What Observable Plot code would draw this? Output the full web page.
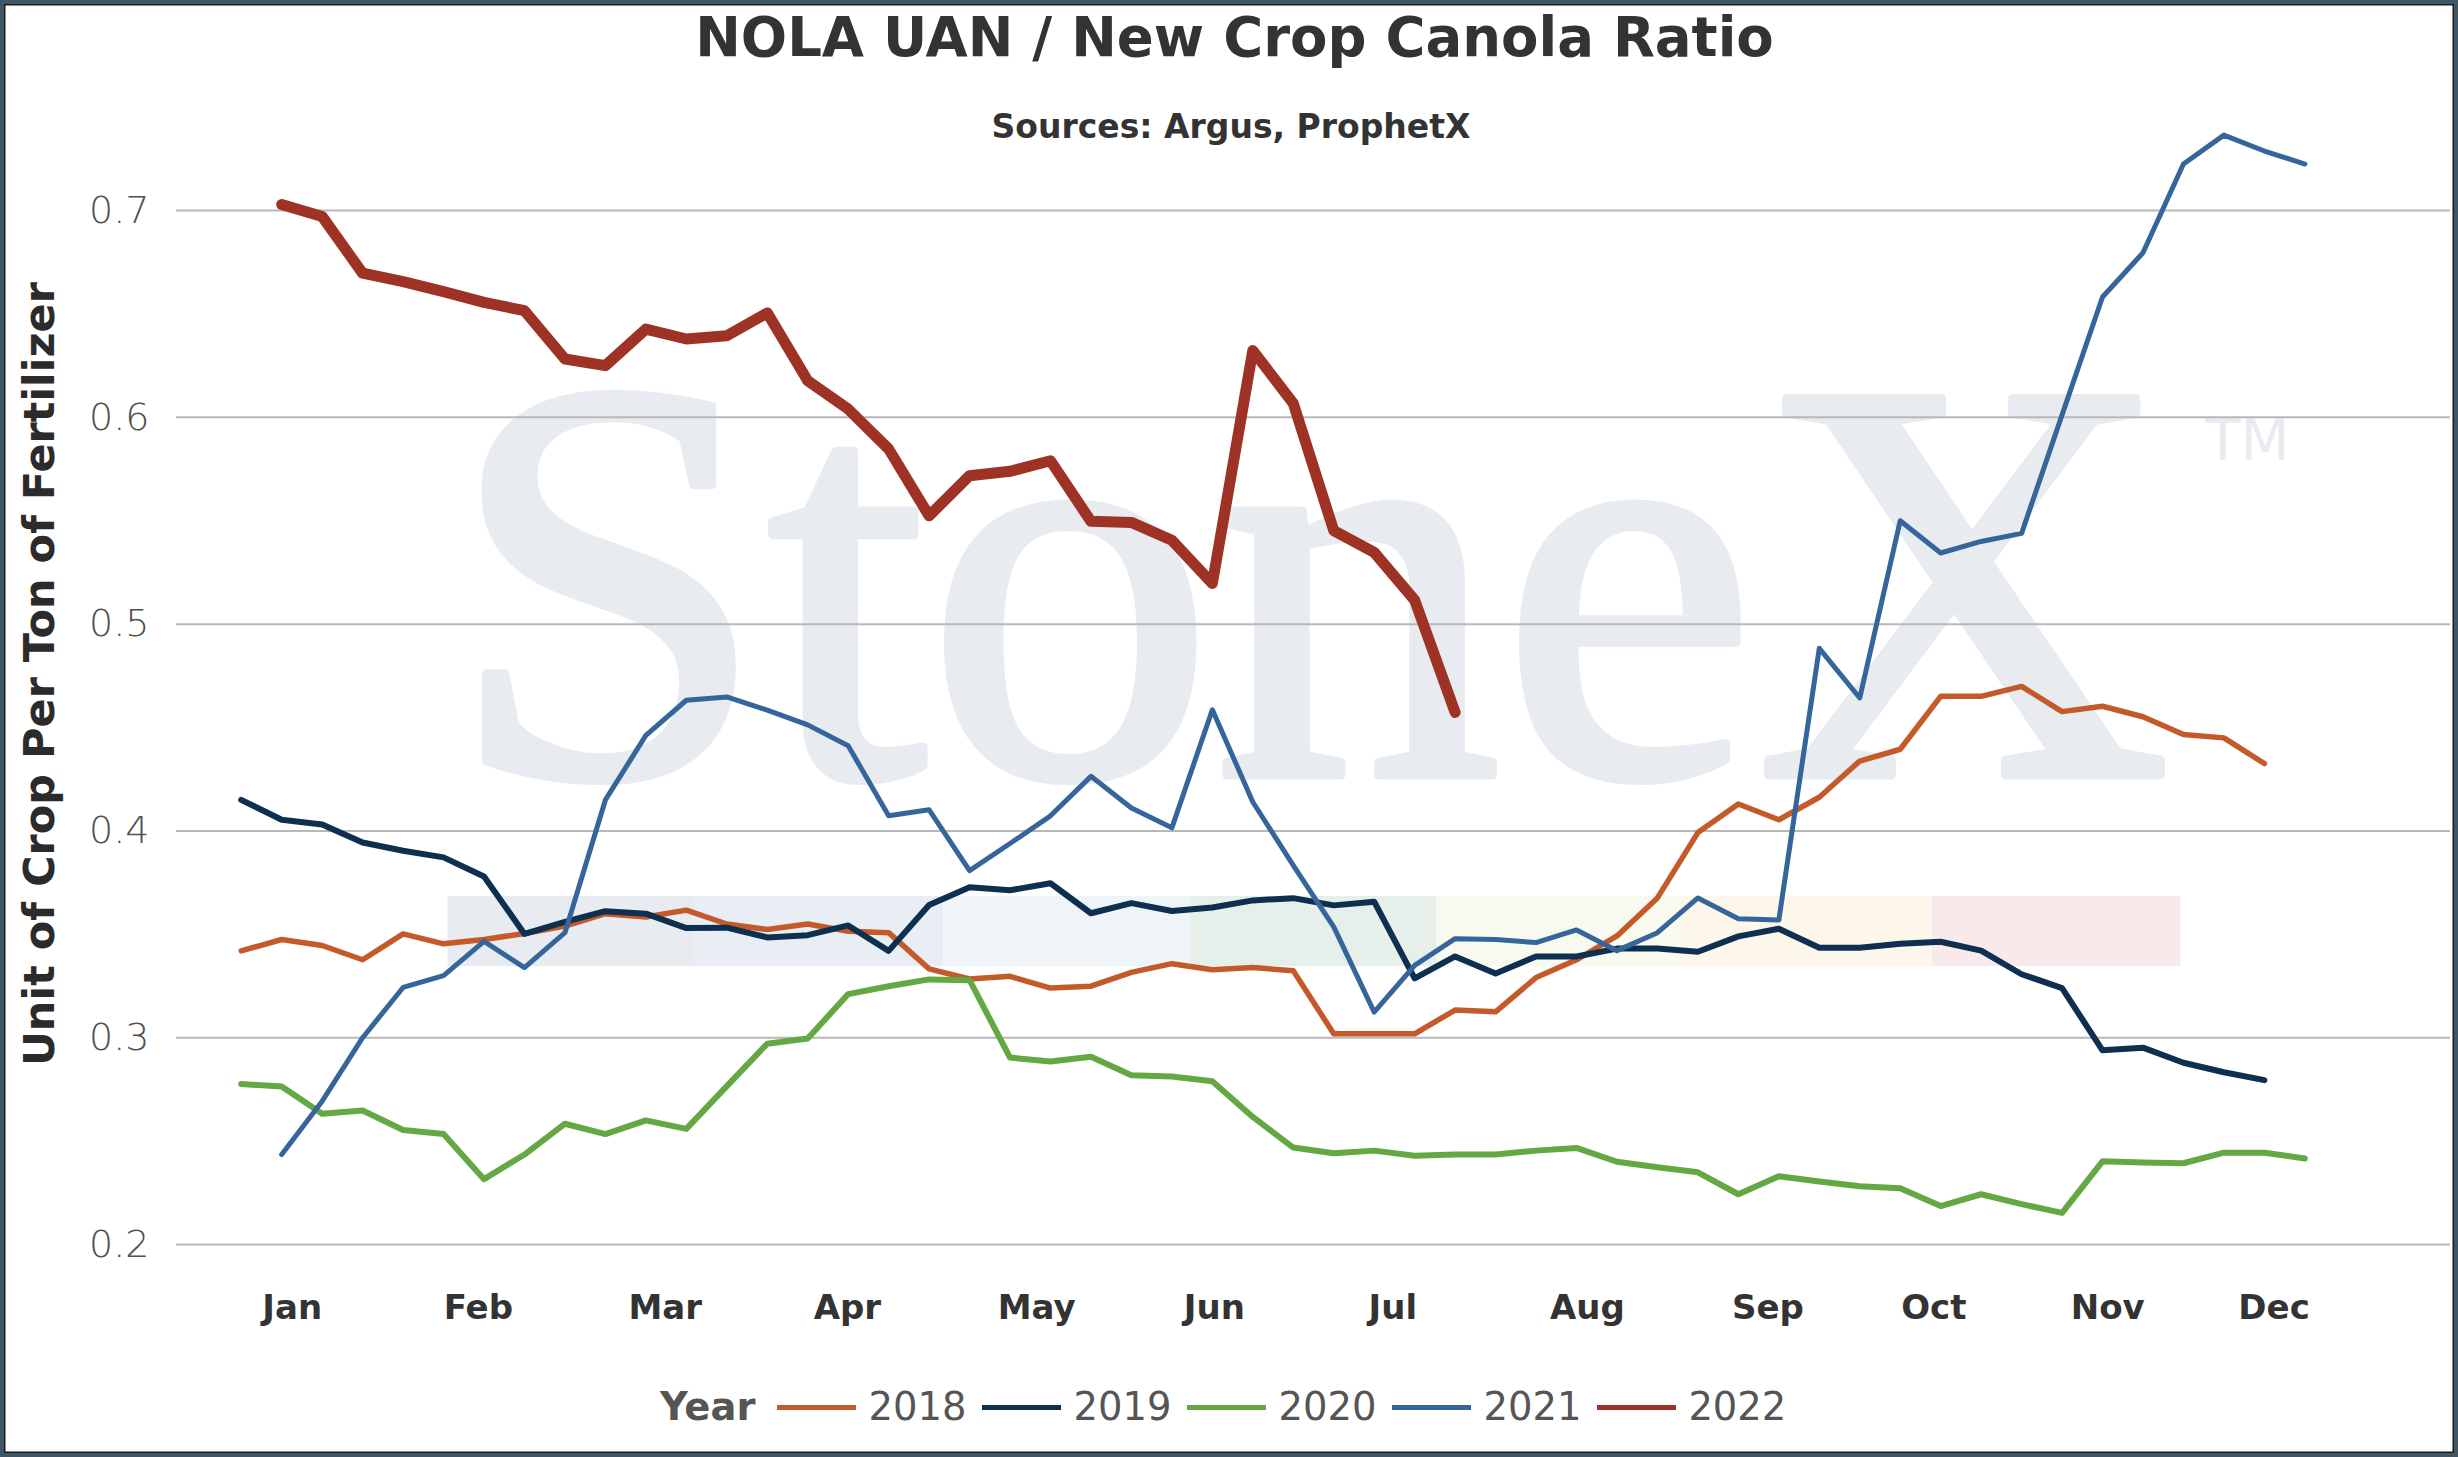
<!DOCTYPE html>
<html>
<head>
<meta charset="utf-8">
<script src="https://cdn.jsdelivr.net/npm/d3@7"></script>
<script src="https://cdn.jsdelivr.net/npm/@observablehq/plot@0.6"></script>
<style>
  html, body { margin: 0; padding: 0; background: #fff; }
  #page { position: relative; width: 2458px; height: 1457px; overflow: hidden; background: #fff;
          font-family: "DejaVu Sans", Verdana, sans-serif; }
  #chart { position: absolute; left: 0; top: 0; }
  #frame { position: absolute; left: 0; top: 0; width: 2458px; height: 1457px; box-sizing: border-box;
           border: 4px solid #3f5667; box-shadow: inset 0 0 0 1.5px #1c1c1c; pointer-events: none; }
  .title { position: absolute; left: 0; width: 2469px; top: 10px; text-align: center; font-weight: bold;
           color: #333; font-size: 54.5px; line-height: 1; white-space: nowrap; }
  .subtitle { position: absolute; left: 0; width: 2462px; top: 110px; text-align: center; font-weight: bold;
              color: #333; font-size: 33px; line-height: 1; white-space: nowrap; }
  #legend { position: absolute; left: 660px; top: 1388px; display: flex; align-items: center;
            font-size: 38.5px; line-height: 1; color: #555; white-space: nowrap; }
  #legend .ltitle { font-weight: bold; margin-right: 22px; }
  #legend .sw { width: 79px; height: 5px; margin-right: 12px; }
  #legend .lab { margin-right: 16px; }
</style>
</head>
<body>
<div id="page">
  <div id="chart"></div>
  <div class="title">NOLA UAN / New Crop Canola Ratio</div>
  <div class="subtitle">Sources: Argus, ProphetX</div>
  <div id="legend"></div>
  <div id="frame"></div>
</div>
<script>
// ---------- data ----------
const years = ["2018", "2019", "2020", "2021", "2022"];
const yearColors = ["#c4592a", "#0e2f50", "#64a844", "#35659b", "#9e3224"];
const yearWidths = [5.5, 6, 6, 5, 11];
const startWeeks = [1, 1, 1, 2, 2];

const v2018 = [0.342, 0.3475, 0.3446, 0.3377, 0.3502, 0.3454, 0.3475, 0.3504, 0.354, 0.360,
  0.3584, 0.3617, 0.355, 0.3523, 0.355, 0.3515, 0.3508, 0.3333, 0.3284, 0.3297,
  0.324, 0.3249, 0.3316, 0.3358, 0.3329, 0.3339, 0.3324, 0.3019, 0.3019, 0.3019,
  0.3134, 0.3125, 0.3291, 0.3377, 0.3492, 0.3676, 0.3992, 0.413, 0.4054, 0.4163,
  0.4338, 0.4395, 0.4651, 0.4651, 0.4699, 0.4577, 0.4603, 0.4552, 0.4466, 0.445, 0.4326];

const v2019 = [0.415, 0.4054, 0.4031, 0.3944, 0.3904, 0.3872, 0.378, 0.3502, 0.356, 0.3612,
  0.360, 0.353, 0.3532, 0.3485, 0.3496, 0.3543, 0.342, 0.3642, 0.3728, 0.3713,
  0.3747, 0.3602, 0.3651, 0.3613, 0.363, 0.3664, 0.3675, 0.364, 0.3658, 0.3287,
  0.3393, 0.331, 0.3393, 0.3393, 0.3431, 0.3431, 0.3416, 0.349, 0.3527, 0.3435,
  0.3435, 0.3454, 0.3464, 0.3421, 0.3307, 0.324, 0.2939, 0.2952, 0.2879, 0.2833, 0.2795];

const v2020 = [0.2776, 0.2764, 0.2632, 0.2648, 0.2554, 0.2534, 0.2316, 0.2435, 0.2584, 0.2534,
  0.260, 0.2559, 0.2766, 0.2971, 0.2996, 0.3211, 0.3249, 0.3282, 0.3278, 0.2904,
  0.2885, 0.2908, 0.2818, 0.2812, 0.2789, 0.2617, 0.2469, 0.2441, 0.2454, 0.2429,
  0.2435, 0.2435, 0.2454, 0.2467, 0.240, 0.2374, 0.2349, 0.2243, 0.2330, 0.2305,
  0.2282, 0.2272, 0.2186, 0.2243, 0.2195, 0.2153, 0.2402, 0.2397, 0.2393, 0.2444,
  0.2444, 0.2416];

const v2021 = [0.2435, 0.2693, 0.300, 0.3243, 0.330, 0.3466, 0.3339, 0.3508, 0.415, 0.4462,
  0.4632, 0.4648, 0.4584, 0.4513, 0.4412, 0.4073, 0.4102, 0.3808, 0.3939, 0.4073,
  0.4264, 0.4111, 0.4015, 0.4586, 0.414, 0.3833, 0.3536, 0.3124, 0.335, 0.3479,
  0.3475, 0.346, 0.3521, 0.3421, 0.3508, 0.3676, 0.3575, 0.3569, 0.4883, 0.4643,
  0.55, 0.5344, 0.540, 0.5439, 0.6012, 0.6582, 0.6796, 0.7225, 0.7365, 0.7288, 0.7225];

const v2022 = [0.7029, 0.6971, 0.6697, 0.6656, 0.6608, 0.6556, 0.6516, 0.6282, 0.625, 0.6427,
  0.6379, 0.6395, 0.6505, 0.6177, 0.604, 0.5847, 0.5524, 0.5718, 0.5739, 0.579,
  0.5497, 0.5492, 0.5406, 0.5197, 0.6323, 0.6068, 0.5452, 0.5347, 0.5116, 0.4573];

const seriesValues = [v2018, v2019, v2020, v2021, v2022];

const monthNames = ["Jan", "Feb", "Mar", "Apr", "May", "Jun", "Jul", "Aug", "Sep", "Oct", "Nov", "Dec"];
const monthTicks = [2.26, 6.86, 11.48, 15.98, 20.66, 25.05, 29.46, 34.27, 38.73, 42.83, 47.13, 51.24];
const yTicks = [0.2, 0.3, 0.4, 0.5, 0.6, 0.7];

// watermark logo band (decoration)
const bandEdges = [6.11, 12.22, 18.36, 24.45, 30.55, 36.62, 42.8, 48.94];
const bandColors = ["#e8ebf0", "#e9eef5", "#eff4f9", "#e6efea", "#f8faef", "#fdf6ea", "#f8e9ea"];
const bandRange = [0.3344, 0.3683];

// ---------- build ----------
const bands = bandColors.map((c, i) => ({x1: bandEdges[i], x2: bandEdges[i + 1], color: c}));
const seriesData = years.map((yr, k) =>
  seriesValues[k].map((v, i) => ({year: yr, week: startWeeks[k] + i, value: v})));
const monthMap = new Map(monthTicks.map((t, i) => [t, monthNames[i]]));

const plot = Plot.plot({
  width: 2458,
  height: 1457,
  marginLeft: 176,
  marginRight: 8,
  marginTop: 86,
  marginBottom: 213,
  style: {fontFamily: "DejaVu Sans, Verdana, sans-serif", background: "transparent", overflow: "visible"},
  x: {type: "linear", domain: [-0.6, 55.6]},
  y: {domain: [0.2, 0.76]},
  marks: [
    Plot.rect(bands, {x1: "x1", x2: "x2", y1: bandRange[0], y2: bandRange[1], fill: "color"}),
    Plot.gridY(yTicks, {stroke: "#b8b8b8", strokeWidth: 2, strokeOpacity: 1}),
    ...seriesData.map((d, k) => Plot.line(d, {
      x: "week", y: "value", stroke: yearColors[k], strokeWidth: yearWidths[k],
      strokeLinejoin: "round", strokeLinecap: "round"
    })),
    Plot.axisY(yTicks, {
      tickSize: 0, tickPadding: 27, fontSize: 38, fill: "#505050", fontWeight: 200,
      tickFormat: d3.format(".1f"), label: null
    }),
    Plot.axisX(monthTicks, {
      tickSize: 0, tickPadding: 50, fontSize: 34, fontWeight: "bold", fill: "#333",
      tickFormat: d => monthMap.get(d), label: null
    })
  ]
});

document.getElementById("chart").appendChild(plot);

// watermark, placed through the plot's own scales, beneath the grid and lines
const xs = plot.scale("x"), ys = plot.scale("y");
const svg = d3.select(plot);
const gridNode = svg.select('g[aria-label="y-grid"]').node();
const wm = document.createElementNS("http://www.w3.org/2000/svg", "g");
plot.insertBefore(wm, gridNode);
const wmg = d3.select(wm).attr("text-anchor", "start");
const wx0 = xs.apply(6.11), wx1 = xs.apply(48.7);
wmg.append("text")
  .attr("x", wx0).attr("y", ys.apply(0.4268))
  .attr("text-anchor", "start")
  .attr("font-family", "Liberation Serif, Times New Roman, serif")
  .attr("font-size", 575)
  .attr("fill", "#e8ebf0")
  .attr("stroke", "#e8ebf0")
  .attr("stroke-width", 9)
  .attr("stroke-linejoin", "round")
  .attr("textLength", wx1 - wx0)
  .attr("lengthAdjust", "spacingAndGlyphs")
  .text("StoneX");
wmg.append("text")
  .attr("x", xs.apply(49.56)).attr("y", ys.apply(0.579))
  .attr("text-anchor", "start")
  .attr("font-family", "DejaVu Sans, sans-serif")
  .attr("font-size", 57)
  .attr("fill", "#e8ebf0")
  .text("TM");

// y-axis title
svg.append("text")
  .attr("transform", `translate(54, ${(ys.apply(0.2) + ys.apply(0.7)) / 2 - 53}) rotate(-90)`)
  .attr("text-anchor", "middle")
  .attr("font-family", "DejaVu Sans, Verdana, sans-serif")
  .attr("font-weight", "bold")
  .attr("font-size", 43)
  .attr("fill", "#2b2b2b")
  .text("Unit of Crop Per Ton of Fertilizer");

// legend
const legend = document.getElementById("legend");
const lt = document.createElement("span");
lt.className = "ltitle"; lt.textContent = "Year";
legend.appendChild(lt);
years.forEach((yr, k) => {
  const sw = document.createElement("span");
  sw.className = "sw"; sw.style.background = yearColors[k];
  const lab = document.createElement("span");
  lab.className = "lab"; lab.textContent = yr;
  legend.appendChild(sw); legend.appendChild(lab);
});
</script>
</body>
</html>
